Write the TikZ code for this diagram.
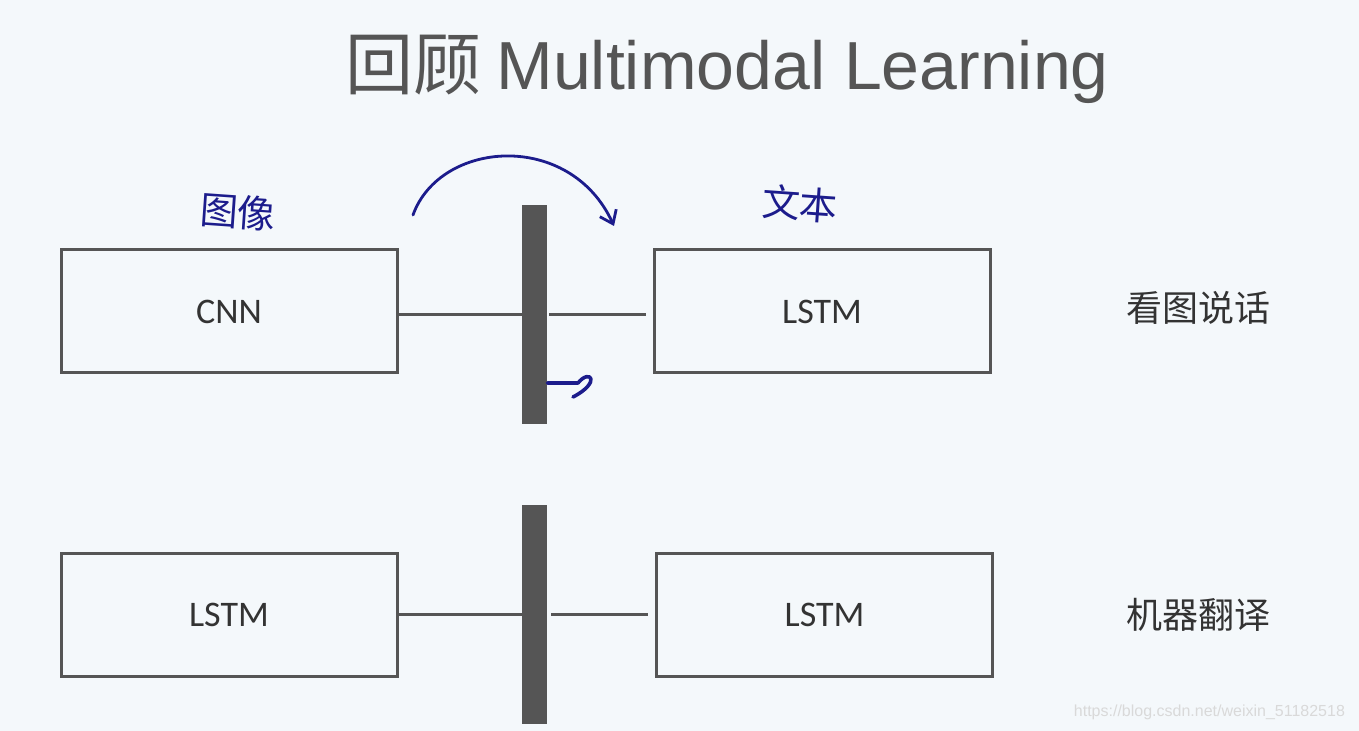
\documentclass[tikz,border=0pt]{standalone}
\usepackage{fontspec}
\setmainfont{Carlito}
\newfontfamily\titlefont{Liberation Sans}
\newfontfamily\cjk{Noto Sans CJK SC}
\usepackage{tikz}
\usetikzlibrary{arrows.meta,positioning}
\usepackage{xcolor}
\definecolor{bgcol}{HTML}{F4F8FB}
\definecolor{ink}{HTML}{555555}
\definecolor{pen}{HTML}{1C1C8C}
\begin{document}
\begin{tikzpicture}[
  x=0.5pt, y=-0.5pt,
  mod/.style={draw=ink, line width=1.5pt, minimum width=168pt, minimum height=61.5pt, inner sep=0pt, font=\fontsize{18}{20}\selectfont, text=black!80},
  bar/.style={fill=ink, draw=none, minimum width=12.5pt, minimum height=109.5pt, inner sep=0pt},
  link/.style={ink, line width=1.5pt},
  task/.style={font=\cjk\fontsize{18}{21}\selectfont, text=black!80},
  hand/.style={pen, line width=1.4pt, line cap=round, line join=round},
  note/.style={font=\cjk\fontsize{19}{22}\selectfont, text=pen}
]
\fill[bgcol] (0,0) rectangle (1359,731);
\useasboundingbox (0,0) rectangle (1359,731);
% title
\node[font=\fontsize{34}{40}\selectfont, text=ink] (title) at (727,69) {{\cjk 回顾} {\titlefont Multimodal Learning}};
% top row: image captioning
\node[mod] (cnn) at (229,311.5) {\raisebox{-2pt}{CNN}};
\node[bar] (barA) at (534.5,314.5) {};
\node[mod] (lstmA) at (822,311.5) {\raisebox{-2pt}{LSTM}};
\node[task] (tagA) at (1198,308) {看图说话};
\draw[link] (cnn.east |- barA.west) -- (barA.west);
\draw[link, shorten >=3.5pt, shorten <=1pt] (barA.east) -- (lstmA.west |- barA.east);
% bottom row: machine translation
\node[mod] (lstmB) at (229,615) {\raisebox{-2pt}{LSTM}};
\node[bar] (barB) at (534.5,614.5) {};
\node[mod] (lstmC) at (824.5,615) {\raisebox{-2pt}{LSTM}};
\node[task] (tagB) at (1198,615) {机器翻译};
\draw[link] (lstmB.east |- barB.west) -- (barB.west);
\draw[link, shorten >=3.5pt, shorten <=2pt] (barB.east) -- (lstmC.west |- barB.east);
% handwritten notes
\node[note, rotate=-4] (noteA) at (238,212) {图像};
\node[note, rotate=-4] (noteB) at (800,204) {文本};
\coordinate (arcL) at (413,215);
\coordinate (arcR) at (614,226);
\draw[hand, -{Straight Barb[length=6pt, width=9pt]}] (arcL) .. controls (440,140) and (570,130) .. (arcR);
\coordinate (hookEnd) at (573,397);
\draw[hand, line width=1.8pt] (barA.east |- 0,383) -- (578,383) .. controls (590,368) and (602,382) .. (hookEnd);
% watermark
\node[font=\titlefont\fontsize{8}{10}\selectfont, text=black!15, anchor=east] (mark) at (1352,712) {https://blog.csdn.net/weixin\_51182518};
\end{tikzpicture}
\end{document}
